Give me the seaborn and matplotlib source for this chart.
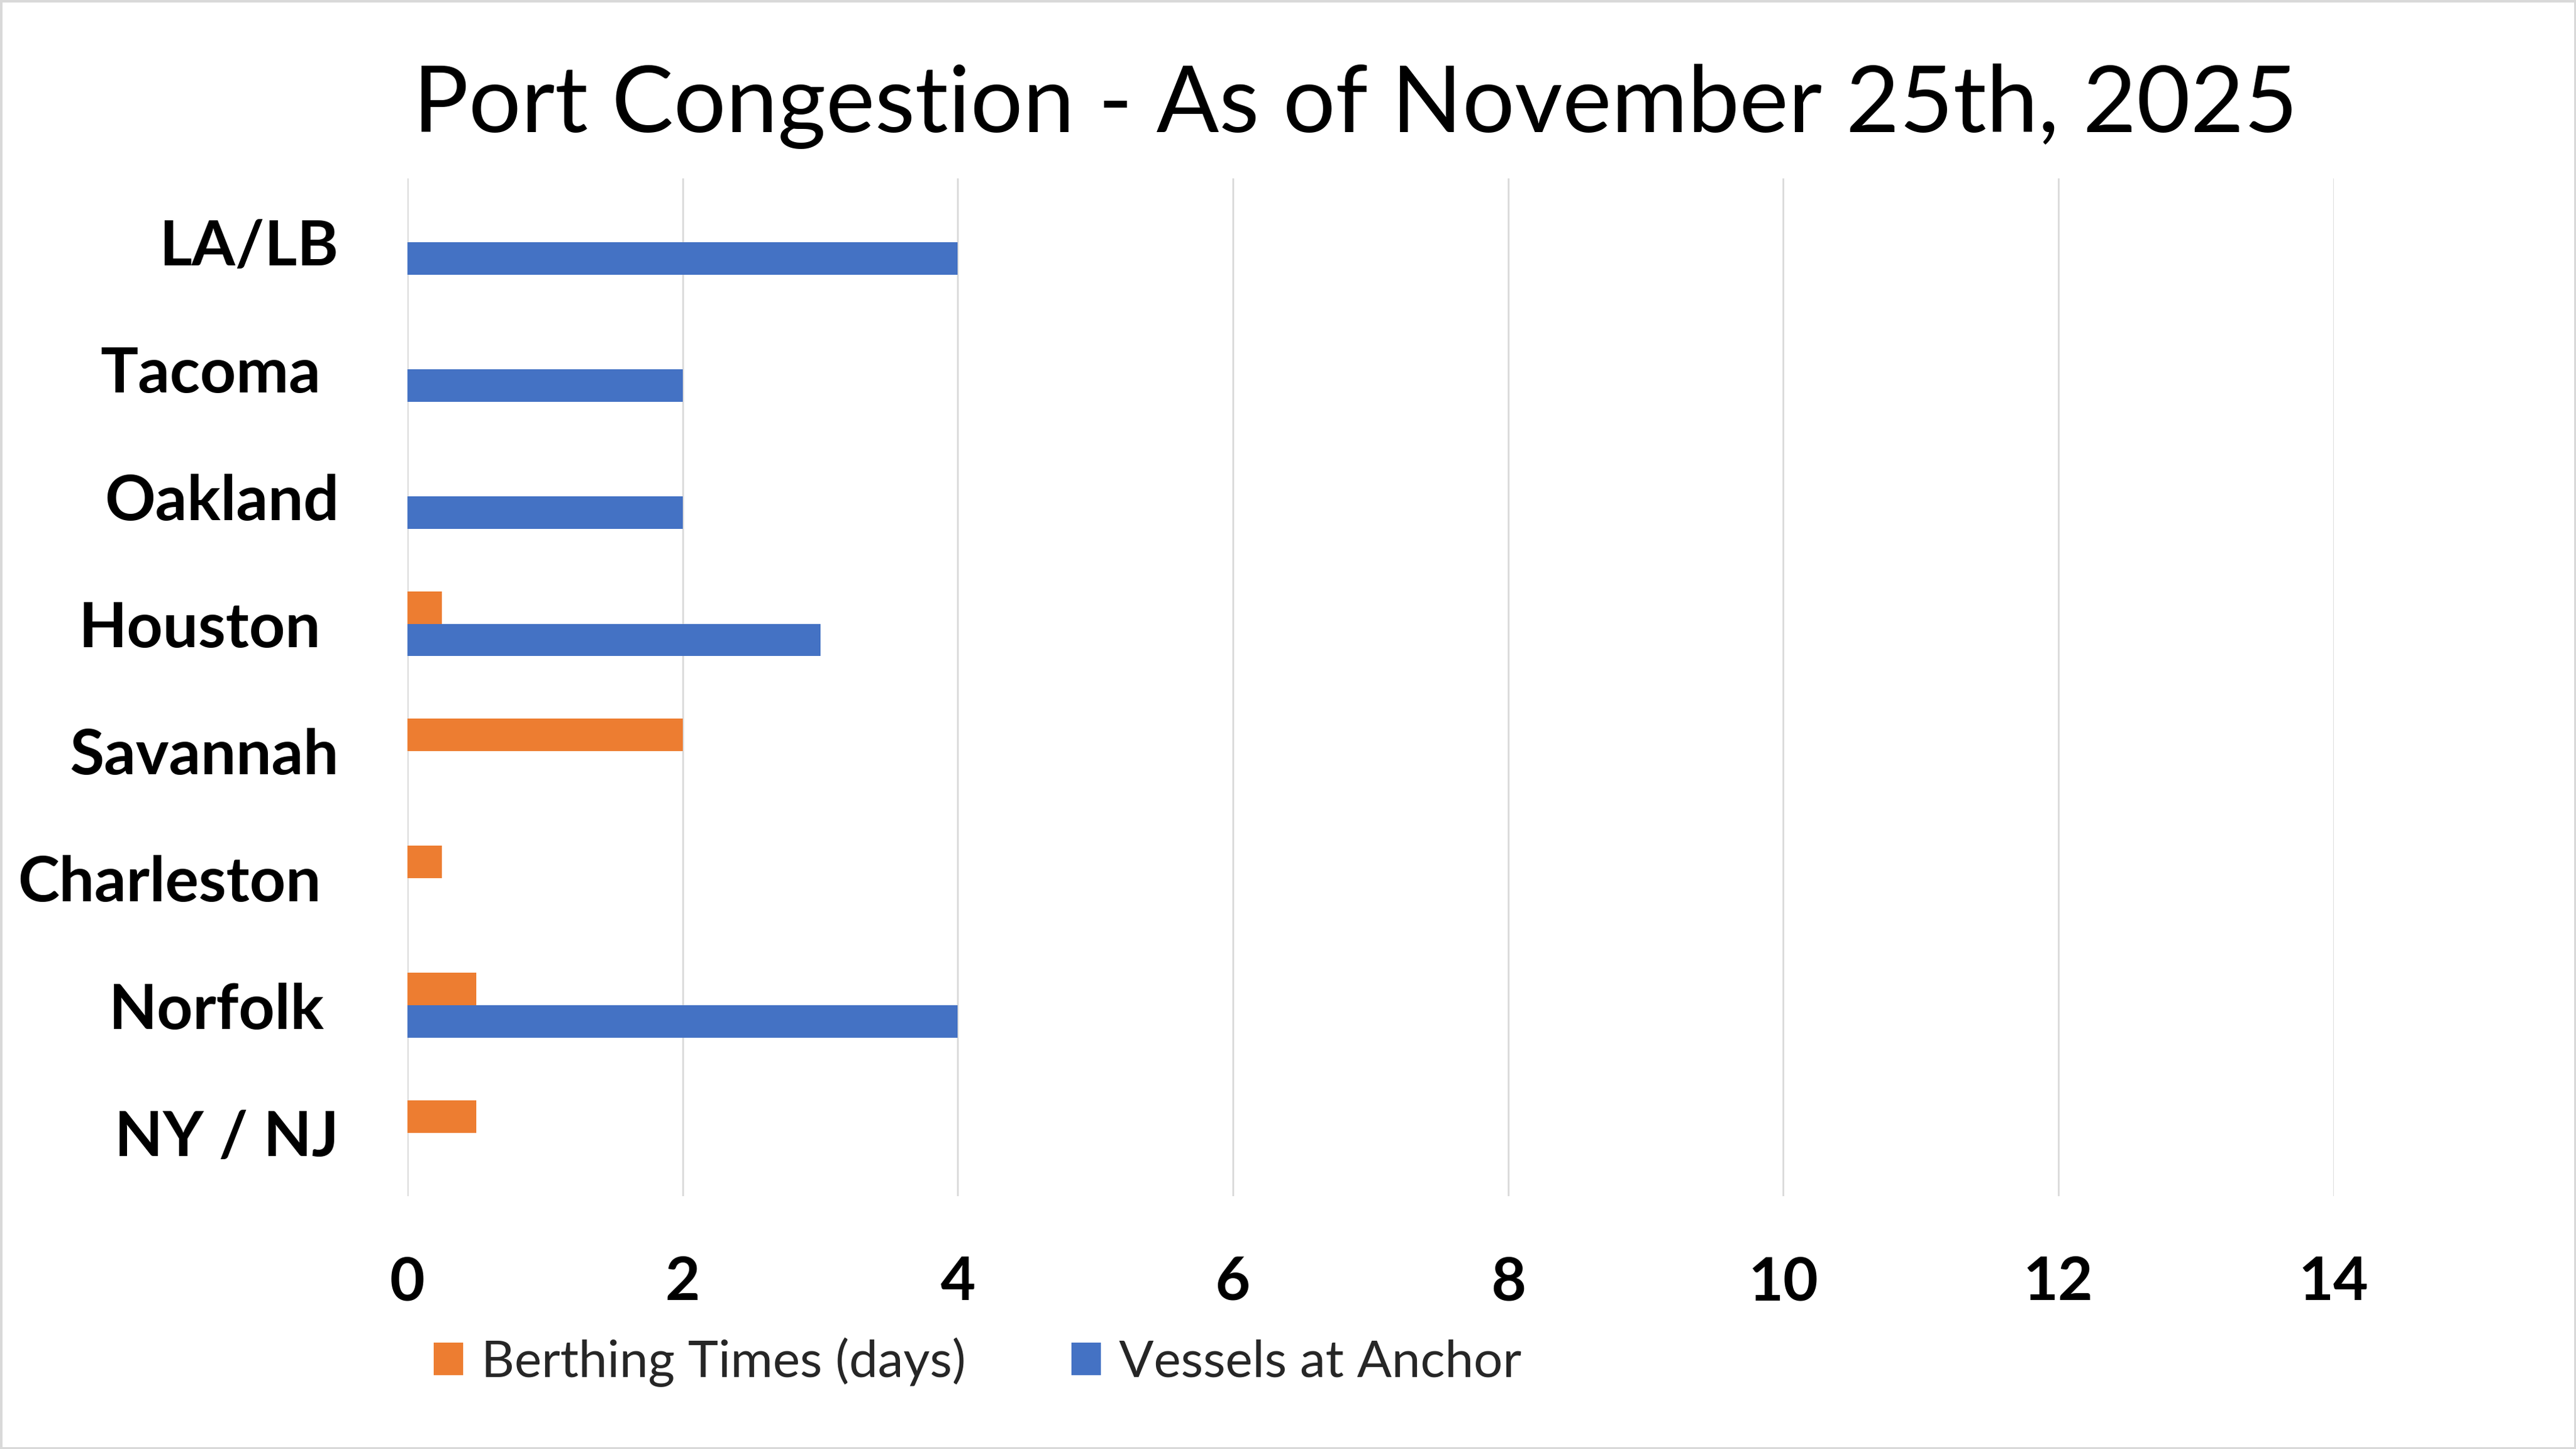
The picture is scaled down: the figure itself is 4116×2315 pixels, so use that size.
import numpy as np
import pandas as pd
import matplotlib
matplotlib.use('Agg')
import matplotlib.pyplot as plt
from matplotlib.transforms import ScaledTranslation
from matplotlib.patches import Patch
import seaborn as sns

# chart data
ports = ['LA/LB', 'Tacoma', 'Oakland', 'Houston', 'Savannah', 'Charleston', 'Norfolk', 'NY / NJ']
series_names = ['Berthing Times (days)', 'Vessels at Anchor']
berthing_days = [0, 0, 0, 0.25, 2, 0.25, 0.5, 0.5]
vessels_at_anchor = [4, 2, 2, 3, 0, 0, 4, 0]
x_ticks = [0, 2, 4, 6, 8, 10, 12, 14]
title = 'Port Congestion - As of November 25th, 2025'

ORANGE = '#ED7D31'
BLUE = '#4472C4'
GRID = '#D9D9D9'

# figure is laid out in "display pixels" of a 1568x882 canvas
W, H = 1568, 882
DPI = 262.5

sns.set_theme(style='white')
plt.rcParams['font.family'] = ['Lato', 'DejaVu Sans']

df = pd.DataFrame({
    'Port': ports * 2,
    'Series': [series_names[0]] * len(ports) + [series_names[1]] * len(ports),
    'Value': berthing_days + vessels_at_anchor,
})

fig = plt.figure(figsize=(W / 100, H / 100), dpi=DPI)
fig.patch.set_facecolor('white')
fig.patch.set_edgecolor(GRID)
fig.patch.set_linewidth(1.5)

left, right, top, bottom = 248, 1420.5, 108.7, 728.2
ax = fig.add_axes([left / W, 1 - bottom / H, (right - left) / W, (bottom - top) / H])

sns.barplot(data=df, y='Port', x='Value', hue='Series', order=ports,
            hue_order=series_names, palette=[ORANGE, BLUE], saturation=1,
            width=0.511, orient='h', linewidth=0, ax=ax, legend=False)

ax.set_xlim(0, 14)
ax.set_xticks(x_ticks)
ax.set_xticklabels([str(t) for t in x_ticks])
ax.set_xlabel('')
ax.set_ylabel('')
ax.set_axisbelow(True)
ax.grid(axis='x', color=GRID, linewidth=0.75)
ax.grid(axis='y', visible=False)
for s in ax.spines.values():
    s.set_visible(False)

ax.tick_params(axis='x', length=0, pad=26, labelsize=26.5)
ax.tick_params(axis='y', length=0, pad=30, labelsize=27.5)
for lab in ax.get_xticklabels() + ax.get_yticklabels():
    lab.set_fontweight('bold')
    lab.set_color('black')

# Excel left some category labels a bit further from the axis
shift_px = {'Tacoma': -11, 'Houston': -11, 'Charleston': -11, 'Norfolk': -9}
for lab in ax.get_yticklabels():
    dx = shift_px.get(lab.get_text(), 0)
    if dx:
        lab.set_transform(lab.get_transform() + ScaledTranslation(dx / 100, 0, fig.dpi_scale_trans))

fig.text(825 / W, 1 - 80.4 / H, title, ha='center', va='baseline', fontsize=40.6, color='black')

handles = [Patch(facecolor=ORANGE, edgecolor='none'), Patch(facecolor=BLUE, edgecolor='none')]
fig.legend(handles, series_names, loc='center left', bbox_to_anchor=(264 / W, 1 - 829 / H),
           ncol=2, frameon=False, fontsize=22.5, handlelength=0.576, handleheight=0.6,
           handletextpad=0.35, columnspacing=2.06, borderpad=0, borderaxespad=0)

fig.savefig('out.png', dpi=DPI, facecolor='white')
